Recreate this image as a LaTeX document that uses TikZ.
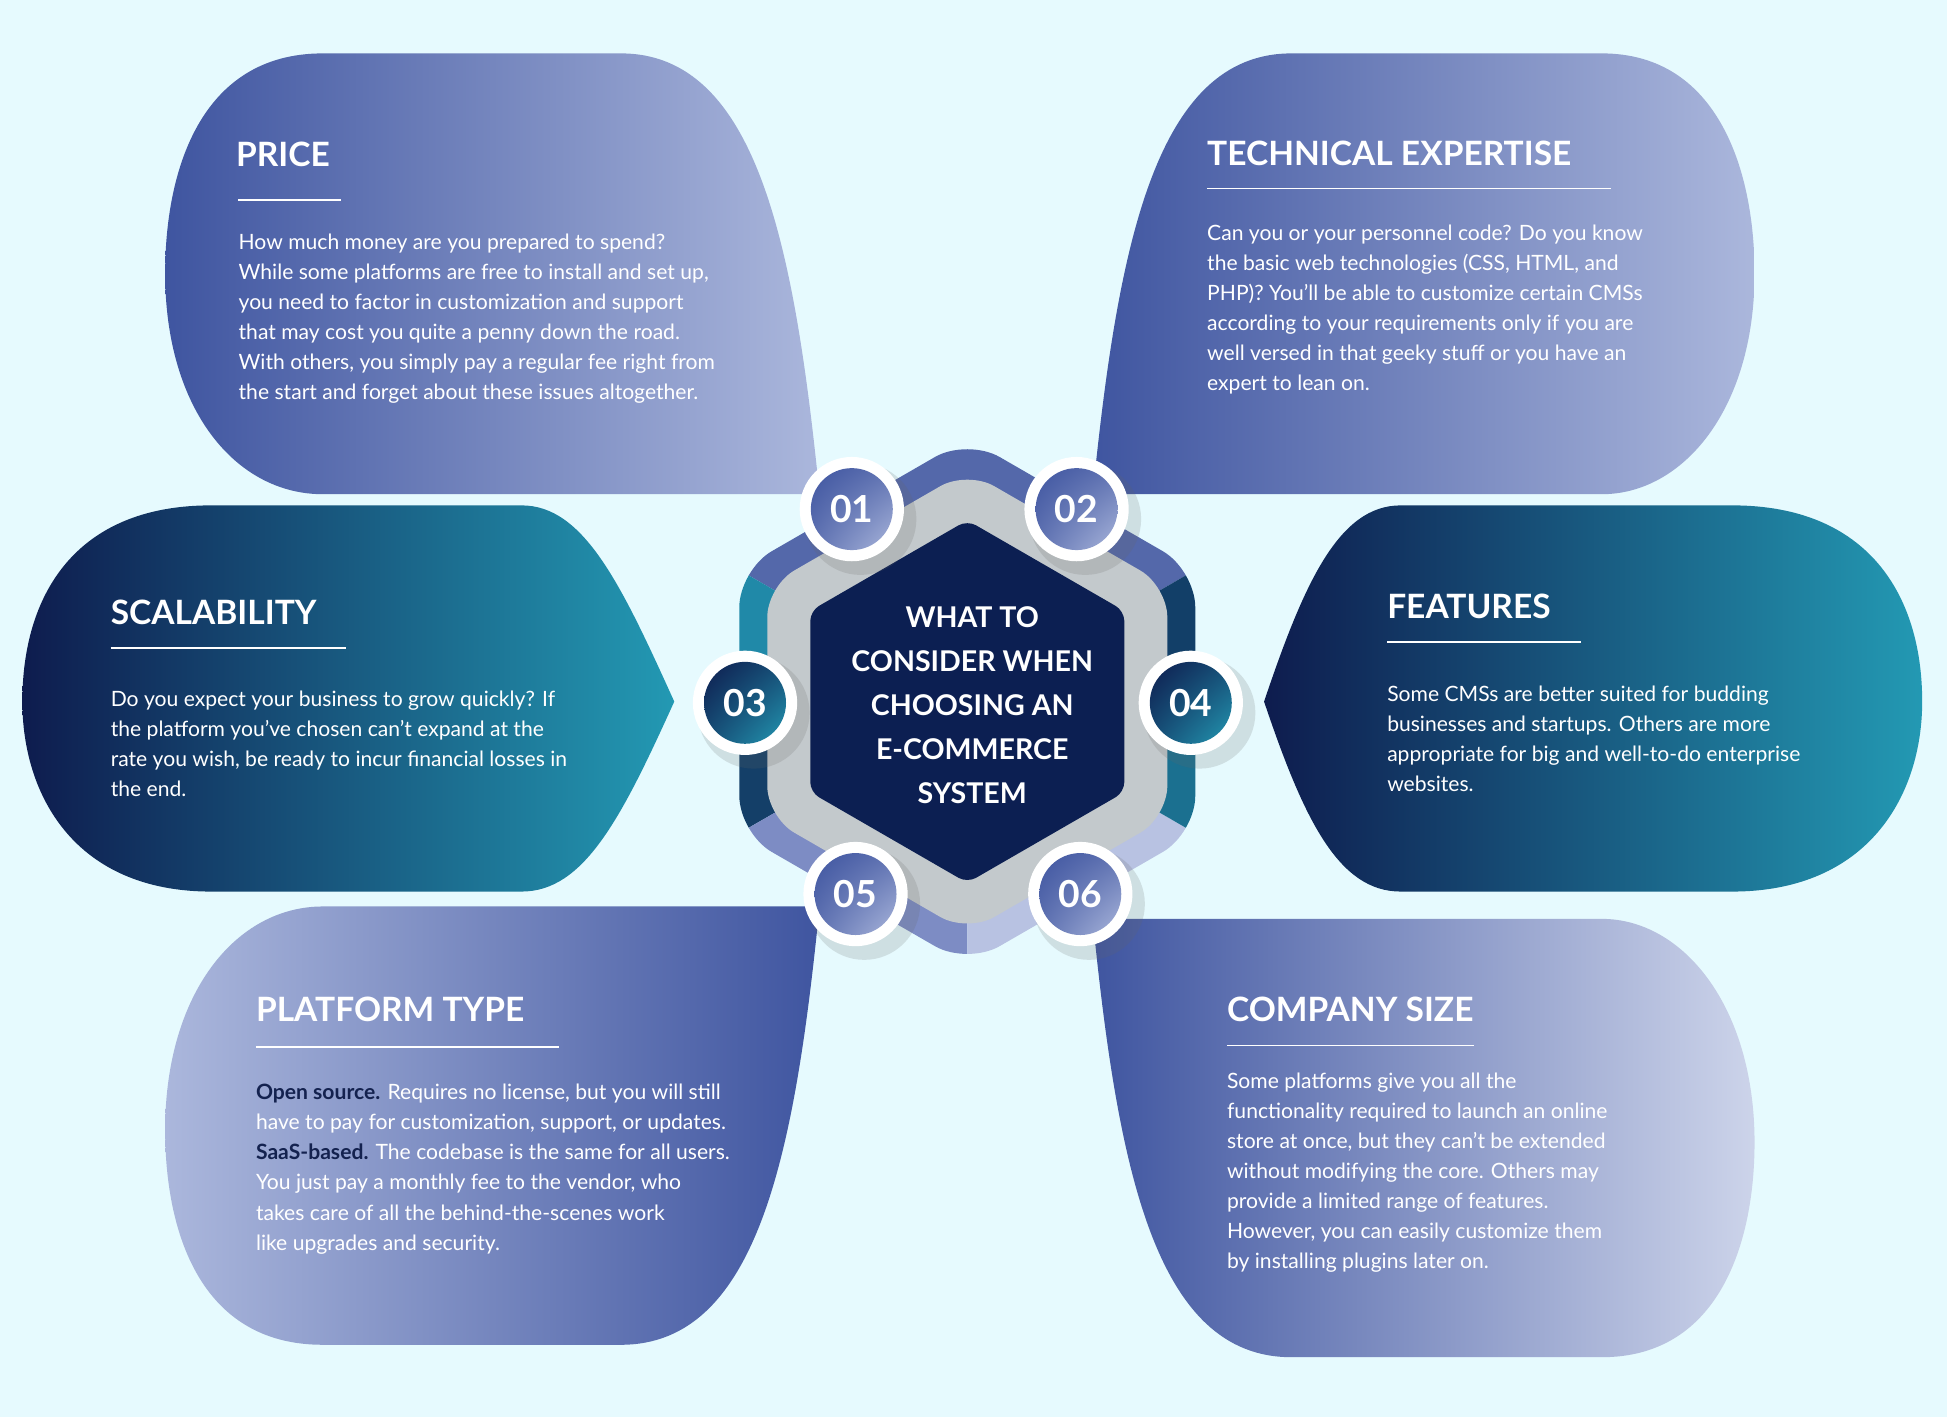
\documentclass[tikz,border=0pt]{standalone}
\usepackage{fontspec}
\setmainfont{Lato}
\usetikzlibrary{shadings}
\definecolor{bg}{HTML}{E6FAFE}
\definecolor{bdark}{HTML}{3F55A0}
\definecolor{blight}{HTML}{ABB7DC}
\definecolor{navy}{HTML}{0E1C4E}
\definecolor{teal}{HTML}{2399B3}
\definecolor{hexnavy}{HTML}{0C1F52}
\definecolor{hexgrey}{HTML}{C3C9CC}
\definecolor{darktxt}{HTML}{14224F}
\definecolor{ringA}{HTML}{5468AA}
\definecolor{ringB}{HTML}{2089A8}
\definecolor{ringC}{HTML}{143F68}
\definecolor{ringD}{HTML}{7D8CC4}
\definecolor{ringE}{HTML}{B8C2E2}
\definecolor{ringF}{HTML}{1B7090}
\definecolor{ringG}{HTML}{123F68}
\begin{document}
\begin{tikzpicture}[x=1pt,y=-1pt,
  body/.style={anchor=north west,inner sep=0pt,text=white,align=left,font=\fontsize{17}{24.2}\selectfont},
  ttl/.style={anchor=north west,inner sep=0pt,text=white,font=\bfseries\fontsize{27}{30}\selectfont},
  uline/.style={white,line width=1.2pt},
  badgeshadow/.style={circle,minimum size=90pt,fill=black!60,opacity=0.18,inner sep=0pt},
  badgeouter/.style={circle,minimum size=84pt,fill=white,inner sep=0pt},
  badgeblue/.style={circle,minimum size=66pt,inner sep=0pt,text=white,font=\bfseries\fontsize{30}{30}\selectfont,
     upper left=bdark,lower right=blight,upper right=bdark!70!blight,lower left=bdark!70!blight},
  badgeteal/.style={circle,minimum size=66pt,inner sep=0pt,text=white,font=\bfseries\fontsize{30}{30}\selectfont,
     upper left=navy,lower right=teal,upper right=navy!60!teal,lower left=navy!60!teal}]
\useasboundingbox (0,0) rectangle (1568,1141);
\fill[bg] (0,0) rectangle (1568,1141);

% petals
\shade[left color=bdark,right color=blight] (260,398) -- (660,398) .. controls (640,200) and (610,43) .. (500,43) -- (260,43) .. controls (160,43) and (133,140) .. (133,220) .. controls (133,330) and (190,398) .. (260,398) -- cycle;
\shade[left color=bdark,right color=blight] (1290,398) -- (880,398) .. controls (900,200) and (930,43) .. (1040,43) -- (1290,43) .. controls (1385,43) and (1413,140) .. (1413,220) .. controls (1413,330) and (1355,398) .. (1290,398) -- cycle;
\shade[left color=navy,right color=teal] (170,407) -- (420,407) .. controls (470,407) and (500,470) .. (543,565) .. controls (500,660) and (470,718) .. (420,718) -- (170,718) .. controls (60,718) and (18,640) .. (18,565) .. controls (18,480) and (60,407) .. (170,407) -- cycle;
\shade[left color=navy,right color=teal] (1128,407) -- (1395,407) .. controls (1505,407) and (1548,480) .. (1548,565) .. controls (1548,640) and (1505,718) .. (1395,718) -- (1128,718) .. controls (1078,718) and (1050,660) .. (1018,565) .. controls (1050,470) and (1078,407) .. (1128,407) -- cycle;
\shade[left color=blight,right color=bdark] (260,730) -- (660,730) .. controls (640,930) and (610,1083) .. (500,1083) -- (260,1083) .. controls (160,1083) and (133,990) .. (133,910) .. controls (133,800) and (190,730) .. (260,730) -- cycle;
\shade[left color=bdark,right color=blight!60!white] (1290,740) -- (880,740) .. controls (900,940) and (930,1093) .. (1040,1093) -- (1290,1093) .. controls (1385,1093) and (1413,1000) .. (1413,920) .. controls (1413,810) and (1355,740) .. (1290,740) -- cycle;

% hexagon
\begin{scope}[shift={(779,565)}]
  \begin{scope}
    \clip[rounded corners=30] (30:212) -- (90:212) -- (150:212) -- (210:212) -- (270:212) -- (330:212) -- cycle;
    \fill[ringA] (0,0) -- (210:300) arc[start angle=210,end angle=330,radius=300] -- cycle;
    \fill[ringB] (0,0) -- (180:300) arc[start angle=180,end angle=210,radius=300] -- cycle;
    \fill[ringC] (0,0) -- (150:300) arc[start angle=150,end angle=180,radius=300] -- cycle;
    \fill[ringD] (0,0) -- (90:300) arc[start angle=90,end angle=150,radius=300] -- cycle;
    \fill[ringE] (0,0) -- (30:300) arc[start angle=30,end angle=90,radius=300] -- cycle;
    \fill[ringF] (0,0) -- (0:300) arc[start angle=0,end angle=30,radius=300] -- cycle;
    \fill[ringG] (0,0) -- (330:300) arc[start angle=330,end angle=360,radius=300] -- cycle;
  \end{scope}
  \fill[hexgrey,rounded corners=25] (30:186) -- (90:186) -- (150:186) -- (210:186) -- (270:186) -- (330:186) -- cycle;
  \fill[hexnavy,rounded corners=8] (30:146) -- (90:146) -- (150:146) -- (210:146) -- (270:146) -- (330:146) -- cycle;
\end{scope}
\node[text=white,align=center,font=\bfseries\fontsize{23}{35.5}\selectfont] (center) at (783,568) {WHAT TO\\CONSIDER WHEN\\CHOOSING AN\\E-COMMERCE\\SYSTEM};

% badges
\foreach \n/\x/\y/\s in {01/686/410/badgeblue,02/867/410/badgeblue,03/600/566/badgeteal,04/959/566/badgeteal,05/689/720/badgeblue,06/870/720/badgeblue}{
  \node[badgeshadow] (sh\n) at (\x+7,\y+8) {};
  \node[badgeouter] (bo\n) at (\x,\y) {};
  \node[\s] (b\n) at (\x,\y) {\n};
}

% titles and text
\node[ttl] (t1) at (190,114) {PRICE};
\coordinate (u1a) at (192,161); \coordinate (u1b) at (275,161);
\draw[uline] (u1a) -- (u1b);
\node[body] (x1) at (192,188) {How much money are you prepared to spend?\\While some platforms are free to install and set up,\\you need to factor in customization and support\\that may cost you quite a penny down the road.\\With others, you simply pay a regular fee right from\\the start and forget about these issues altogether.};

\node[ttl] (t2) at (972,113) {TECHNICAL EXPERTISE};
\coordinate (u2a) at (972,152); \coordinate (u2b) at (1297,152);
\draw[uline] (u2a) -- (u2b);
\node[body] (x2) at (972,181) {Can you or your personnel code? Do you know\\the basic web technologies (CSS, HTML, and\\PHP)? You’ll be able to customize certain CMSs\\according to your requirements only if you are\\well versed in that geeky stuff or you have an\\expert to lean on.};

\node[ttl] (t3) at (89,483) {SCALABILITY};
\coordinate (u3a) at (89,522); \coordinate (u3b) at (279,522);
\draw[uline] (u3a) -- (u3b);
\node[body] (x3) at (89,556) {Do you expect your business to grow quickly? If\\the platform you’ve chosen can’t expand at the\\rate you wish, be ready to incur financial losses in\\the end.};

\node[ttl] (t4) at (1117,478) {FEATURES};
\coordinate (u4a) at (1117,517); \coordinate (u4b) at (1273,517);
\draw[uline] (u4a) -- (u4b);
\node[body] (x4) at (1117,552) {Some CMSs are better suited for budding\\businesses and startups. Others are more\\appropriate for big and well-to-do enterprise\\websites.};

\node[ttl] (t5) at (206,803) {PLATFORM TYPE};
\coordinate (u5a) at (206,843); \coordinate (u5b) at (450,843);
\draw[uline] (u5a) -- (u5b);
\node[body] (x5) at (206,873) {\textcolor{darktxt}{\bfseries Open source.} Requires no license, but you will still\\have to pay for customization, support, or updates.\\\textcolor{darktxt}{\bfseries SaaS-based.} The codebase is the same for all users.\\You just pay a monthly fee to the vendor, who\\takes care of all the behind-the-scenes work\\like upgrades and security.};

\node[ttl] (t6) at (988,803) {COMPANY SIZE};
\coordinate (u6a) at (988,842); \coordinate (u6b) at (1187,842);
\draw[uline] (u6a) -- (u6b);
\node[body] (x6) at (988,864) {Some platforms give you all the\\functionality required to launch an online\\store at once, but they can’t be extended\\without modifying the core. Others may\\provide a limited range of features.\\However, you can easily customize them\\by installing plugins later on.};
\end{tikzpicture}
\end{document}
